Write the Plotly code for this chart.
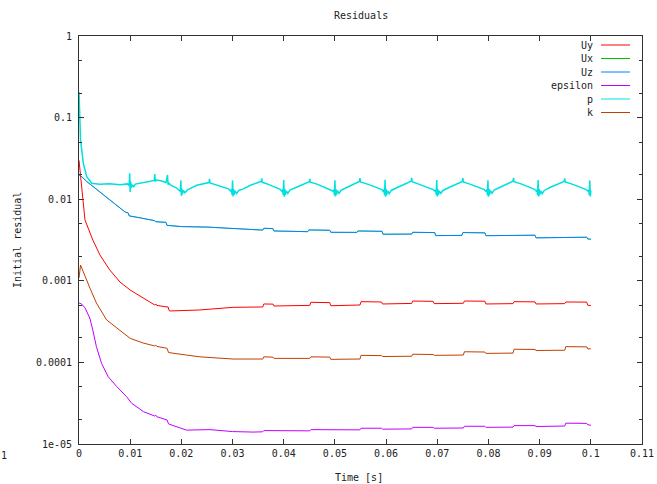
import plotly.graph_objects as go

# ---------------- data ----------------
series_names = ["Uy", "Ux", "Uz", "epsilon", "p", "k"]
series_colors = ["#ff0000", "#00c000", "#0080ff", "#c000ff", "#00e0e0", "#c04000"]

uy_t = [0, 0.0006, 0.00117, 0.0027, 0.0041, 0.006, 0.008, 0.010, 0.0125, 0.0148, 0.0150,
        0.0152, 0.0172, 0.0174, 0.0176, 0.0178, 0.0236, 0.0301, 0.0359, 0.0361, 0.0379,
        0.0381, 0.0451, 0.0453, 0.0490, 0.0492, 0.0549, 0.0551, 0.0591, 0.0593, 0.0650,
        0.0652, 0.0692, 0.0694, 0.0751, 0.0753, 0.0793, 0.0795, 0.0848, 0.0850, 0.0891,
        0.0893, 0.0949, 0.0951, 0.0992, 0.0994, 0.1]
uy_v = [0.030, 0.0130, 0.00556, 0.00316, 0.00207, 0.00136, 0.000966, 0.000771, 0.000615,
        0.000505, 0.000520, 0.000500, 0.000477, 0.000480, 0.000432, 0.000427, 0.000439,
        0.000473, 0.000478, 0.000520, 0.000518, 0.000491, 0.000500, 0.000545, 0.000540,
        0.000495, 0.000505, 0.000555, 0.000550, 0.000520, 0.000528, 0.000565, 0.000560,
        0.000525, 0.000530, 0.000565, 0.000562, 0.000520, 0.000525, 0.000555, 0.000552,
        0.000520, 0.000525, 0.000550, 0.000548, 0.000501, 0.000498]

uz_t = [0, 0.0003, 0.0015, 0.0031, 0.0057, 0.0090, 0.0096, 0.0098, 0.0120, 0.0148, 0.0150,
        0.0165, 0.0170, 0.0172, 0.0200, 0.0252, 0.0345, 0.0359, 0.0361, 0.0379, 0.0381,
        0.0430, 0.0447, 0.0449, 0.0490, 0.0492, 0.0540, 0.0543, 0.0545, 0.0592, 0.0594,
        0.0650, 0.0652, 0.0695, 0.0697, 0.0748, 0.0750, 0.0793, 0.0795, 0.0848, 0.0850,
        0.0891, 0.0893, 0.0949, 0.0951, 0.0992, 0.0994, 0.1]
uz_v = [0.0198, 0.0195, 0.0165, 0.0137, 0.0103, 0.00697, 0.00680, 0.00625, 0.00590,
        0.00545, 0.00530, 0.00515, 0.00520, 0.00478, 0.00462, 0.00455, 0.00420, 0.00418,
        0.00440, 0.00436, 0.00408, 0.00402, 0.00400, 0.00420, 0.00416, 0.00393, 0.00390,
        0.00392, 0.00408, 0.00404, 0.00372, 0.00374, 0.00393, 0.00390, 0.00358, 0.00360,
        0.00390, 0.00387, 0.00357, 0.00359, 0.00364, 0.00362, 0.00336, 0.00338, 0.00344,
        0.00342, 0.00325, 0.00324]

# Ux lies underneath Uz in the reference (hidden)
ux_t = uz_t
ux_v = uz_v

eps_t = [0, 0.0005, 0.0012, 0.0021, 0.0027, 0.0034, 0.0044, 0.0057, 0.0074, 0.0093, 0.0103,
         0.0126, 0.0148, 0.0150, 0.0152, 0.0172, 0.0175, 0.0210, 0.0256, 0.0300, 0.0340,
         0.0359, 0.0361, 0.0379, 0.0381, 0.0451, 0.0453, 0.0490, 0.0492, 0.0549, 0.0551,
         0.0591, 0.0593, 0.0650, 0.0652, 0.0692, 0.0694, 0.0751, 0.0753, 0.0793, 0.0795,
         0.0848, 0.0850, 0.0891, 0.0893, 0.0949, 0.0951, 0.0992, 0.0994, 0.1]
eps_v = [0.000535, 0.000520, 0.000464, 0.000350, 0.000249, 0.000156, 9.75e-5, 6.68e-5,
         5.04e-5, 3.80e-5, 3.15e-5, 2.49e-5, 2.20e-5, 2.26e-5, 2.16e-5, 1.97e-5, 1.76e-5,
         1.48e-5, 1.50e-5, 1.42e-5, 1.40e-5, 1.41e-5, 1.46e-5, 1.46e-5, 1.44e-5, 1.45e-5,
         1.50e-5, 1.50e-5, 1.47e-5, 1.49e-5, 1.56e-5, 1.56e-5, 1.52e-5, 1.53e-5, 1.60e-5,
         1.60e-5, 1.56e-5, 1.57e-5, 1.65e-5, 1.65e-5, 1.60e-5, 1.61e-5, 1.68e-5, 1.68e-5,
         1.64e-5, 1.66e-5, 1.80e-5, 1.79e-5, 1.72e-5, 1.70e-5]

k_t = [0, 0.0003, 0.00215, 0.0034, 0.0054, 0.0080, 0.0100, 0.0125, 0.0148, 0.0150, 0.0152,
       0.0172, 0.0175, 0.0210, 0.0236, 0.0301, 0.0359, 0.0361, 0.0379, 0.0381, 0.0451,
       0.0453, 0.0490, 0.0492, 0.0549, 0.0551, 0.0591, 0.0593, 0.0650, 0.0652, 0.0692,
       0.0694, 0.0751, 0.0753, 0.0793, 0.0795, 0.0848, 0.0850, 0.0891, 0.0893, 0.0949,
       0.0951, 0.0992, 0.0994, 0.1]
k_v = [0.00108, 0.00156, 0.00081, 0.000535, 0.000331, 0.000249, 0.000197, 0.000173,
       0.000159, 0.000163, 0.000157, 0.000149, 0.000132, 0.000123, 0.000117, 0.000110,
       0.000110, 0.000117, 0.000116, 0.000112, 0.000112, 0.000117, 0.000116, 0.000109,
       0.000110, 0.000122, 0.000121, 0.000118, 0.000119, 0.000126, 0.000125, 0.000122,
       0.000123, 0.000135, 0.000134, 0.000129, 0.000130, 0.000145, 0.000144, 0.000140,
       0.000141, 0.000156, 0.000155, 0.000146, 0.000147]

p_t = [0, 0.0003, 0.00085, 0.0015, 0.0025, 0.0040, 0.0060, 0.0080, 0.0095, 0.0098, 0.0099,
       0.0100, 0.0101, 0.0102, 0.0104, 0.0107, 0.0110, 0.0125, 0.0140, 0.0147, 0.0148,
       0.0149, 0.0151, 0.0160, 0.0170, 0.0173, 0.0174, 0.0175, 0.0180, 0.0190, 0.0196,
       0.0198, 0.0199, 0.0200, 0.0201, 0.0202, 0.0204, 0.0207, 0.0212, 0.0230, 0.0254,
       0.0255, 0.0256, 0.0275,
       0.0292, 0.0296, 0.0298, 0.0299, 0.0300, 0.0301, 0.0302, 0.0303, 0.0305, 0.0308,
       0.0312, 0.0320, 0.0335, 0.0350, 0.0356, 0.0357, 0.0358, 0.0370, 0.0385, 0.0393,
       0.0396, 0.0398, 0.0399, 0.0400, 0.0401, 0.0402, 0.0403, 0.0405, 0.0408, 0.0412,
       0.0425, 0.0440, 0.0450, 0.0451, 0.0452, 0.0465, 0.0480, 0.0492,
       0.0496, 0.0498, 0.0499, 0.0500, 0.0501, 0.0502, 0.0503, 0.0505, 0.0508, 0.0512,
       0.0525, 0.0540, 0.0548, 0.0549, 0.0550, 0.0565, 0.0580, 0.0592,
       0.0594, 0.0596, 0.0597, 0.0598, 0.0599, 0.0600, 0.0601, 0.0603, 0.0606, 0.0610,
       0.0625, 0.0640, 0.0649, 0.0650, 0.0651, 0.0665, 0.0680, 0.0692,
       0.0695, 0.0697, 0.0698, 0.0699, 0.0700, 0.0701, 0.0702, 0.0704, 0.0707, 0.0711,
       0.0725, 0.0740, 0.0749, 0.0750, 0.0751, 0.0765, 0.0780, 0.0792,
       0.0795, 0.0797, 0.0798, 0.0799, 0.0800, 0.0801, 0.0802, 0.0804, 0.0807, 0.0811,
       0.0825, 0.0840, 0.0848, 0.0849, 0.0850, 0.0865, 0.0880, 0.0890,
       0.0893, 0.0895, 0.0896, 0.0897, 0.0898, 0.0899, 0.0900, 0.0902, 0.0905, 0.0909,
       0.0922, 0.0937, 0.0948, 0.0949, 0.0950, 0.0965, 0.0980, 0.0991,
       0.0994, 0.0996, 0.0997, 0.0998, 0.0999, 0.1000]
p_v = [0.206, 0.053, 0.0275, 0.0189, 0.0157, 0.0152, 0.0155, 0.0150, 0.0154, 0.0146, 0.0208,
       0.0123, 0.0165, 0.0138, 0.0150, 0.0142, 0.0153, 0.0158, 0.0166, 0.0170, 0.0203,
       0.0165, 0.0172, 0.0168, 0.0160, 0.0198, 0.0150, 0.0158, 0.0148, 0.0138, 0.0128,
       0.0124, 0.0170, 0.0110, 0.0134, 0.0116, 0.0128, 0.0120, 0.0130, 0.0148, 0.0160,
       0.0178, 0.0158, 0.0146,
       0.0134, 0.0126, 0.0131, 0.0114, 0.0170, 0.0108, 0.0133, 0.0113, 0.0127, 0.0117,
       0.0128, 0.0133, 0.0148, 0.0160, 0.0165, 0.0180, 0.0161, 0.0152, 0.0138, 0.0132,
       0.0125, 0.0131, 0.0113, 0.0172, 0.0107, 0.0134, 0.0112, 0.0126, 0.0118, 0.0129,
       0.0140, 0.0155, 0.0164, 0.0178, 0.0162, 0.0153, 0.0140, 0.0131,
       0.0126, 0.0130, 0.0112, 0.0171, 0.0108, 0.0133, 0.0113, 0.0127, 0.0118, 0.0128,
       0.0141, 0.0156, 0.0165, 0.0181, 0.0163, 0.0152, 0.0139, 0.0131,
       0.0125, 0.0131, 0.0112, 0.0173, 0.0107, 0.0134, 0.0112, 0.0127, 0.0117, 0.0128,
       0.0142, 0.0157, 0.0166, 0.0183, 0.0164, 0.0152, 0.0140, 0.0131,
       0.0126, 0.0130, 0.0113, 0.0172, 0.0108, 0.0133, 0.0112, 0.0126, 0.0118, 0.0128,
       0.0141, 0.0156, 0.0165, 0.0181, 0.0163, 0.0152, 0.0140, 0.0131,
       0.0125, 0.0131, 0.0112, 0.0171, 0.0107, 0.0134, 0.0113, 0.0127, 0.0118, 0.0129,
       0.0142, 0.0157, 0.0166, 0.0182, 0.0164, 0.0153, 0.0140, 0.0132,
       0.0126, 0.0130, 0.0112, 0.0172, 0.0108, 0.0133, 0.0113, 0.0127, 0.0117, 0.0128,
       0.0141, 0.0156, 0.0165, 0.0180, 0.0163, 0.0152, 0.0140, 0.0131,
       0.0126, 0.0130, 0.0112, 0.0170, 0.0108, 0.0127]

x_tickvals = [0, 0.01, 0.02, 0.03, 0.04, 0.05, 0.06, 0.07, 0.08, 0.09, 0.1, 0.11]
x_ticktext = ["0", "0.01", "0.02", "0.03", "0.04", "0.05", "0.06", "0.07", "0.08", "0.09", "0.1", "0.11"]
y_tickvals = [1, 0.1, 0.01, 0.001, 0.0001, 0.00001]
y_ticktext = ["1", "0.1", "0.01", "0.001", "0.0001", "1e-05"]
y_minorvals = [m * 10.0 ** e for e in range(-5, 0) for m in (2, 5)]

# ---------------- figure ----------------
W, H = 657, 484
L, R, T, B = 79, 642, 36, 444
FONT = "DejaVu Sans Mono"
TXT = "#222222"
FRAME = "#333333"
TFONT = dict(family=FONT, size=10, color=TXT)

def px(xp):
    return (xp - L) / (R - L)

def py(yp):
    return (B - yp) / (B - T)

data = {
    "Uy": (uy_t, uy_v), "Ux": (ux_t, ux_v), "Uz": (uz_t, uz_v),
    "epsilon": (eps_t, eps_v), "p": (p_t, p_v), "k": (k_t, k_v),
}
widths = {"Ux": 0.6, "p": 1.5}

fig = go.Figure()
for name, col in zip(series_names, series_colors):
    t, v = data[name]
    fig.add_trace(go.Scatter(x=t, y=v, mode="lines", name=name,
                             line=dict(color=col, width=widths.get(name, 1)),
                             showlegend=False))

fig.update_layout(
    width=W, height=H, autosize=False,
    margin=dict(l=L, r=W - R, t=T, b=H - B, pad=0, autoexpand=False),
    paper_bgcolor="white", plot_bgcolor="white",
    font=TFONT,
    xaxis=dict(range=[0, 0.11], tickvals=x_tickvals, ticktext=x_ticktext,
               automargin=False,
               showgrid=False, zeroline=False, showline=True, linecolor=FRAME,
               linewidth=1, mirror="ticks", ticks="inside", ticklen=5,
               tickcolor=FRAME, tickfont=TFONT),
    yaxis=dict(type="log", range=[-5, 0], tickvals=y_tickvals, ticktext=y_ticktext,
               automargin=False,
               showgrid=False, zeroline=False, showline=True, linecolor=FRAME,
               linewidth=1, mirror="ticks", ticks="inside", ticklen=5,
               tickcolor=FRAME, ticklabelstandoff=4, tickfont=TFONT,
               minor=dict(tickvals=y_minorvals, ticks="inside", ticklen=3,
                          tickcolor=FRAME, showgrid=False)),
)

annotations = [
    dict(text="Residuals", x=0.5, y=py(16), xref="paper", yref="paper", font=TFONT,
         showarrow=False, xanchor="center", yanchor="middle"),
    dict(text="Time [s]", x=px(359), y=py(477), xref="paper", yref="paper", font=TFONT,
         showarrow=False, xanchor="center", yanchor="middle"),
    dict(text="Initial residual", x=px(17), y=0.5, xref="paper", yref="paper", font=TFONT,
         showarrow=False, xanchor="center", yanchor="middle", textangle=-90),
    dict(text="1", x=px(4), y=py(456), xref="paper", yref="paper", font=TFONT,
         showarrow=False, xanchor="center", yanchor="middle"),
]
shapes = []
leg_y0, leg_dy = 45, 13.5
for i, (name, col) in enumerate(zip(series_names, series_colors)):
    yy = py(leg_y0 + i * leg_dy)
    annotations.append(dict(text=name, x=px(595), y=yy, xref="paper", yref="paper",
                            font=TFONT, showarrow=False, xanchor="right", yanchor="middle"))
    shapes.append(dict(type="line", xref="paper", yref="paper", x0=px(601), x1=px(630),
                       y0=yy, y1=yy, line=dict(color=col, width=1)))
fig.update_layout(annotations=annotations, shapes=shapes)

post = ("document.documentElement.style.margin='0';"
        "document.documentElement.style.overflow='hidden';"
        "document.body.style.margin='0';document.body.style.padding='0';"
        "document.body.style.overflow='hidden';"
        "var gd=document.getElementById('{plot_id}');"
        "Plotly.relayout(gd,{width:657,height:484});")
fig.write_html("out.html", config={"responsive": False, "displayModeBar": False},
               post_script=post)
